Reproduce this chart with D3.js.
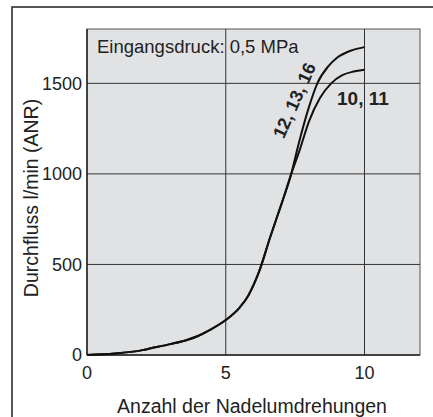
<!DOCTYPE html>
<html><head><meta charset="utf-8">
<script src="https://cdn.jsdelivr.net/npm/d3@7"></script>
<style>body{margin:0;background:#fff}svg{display:block}text{font-family:"Liberation Sans",Arial,sans-serif;fill:#222}</style>
</head><body><svg id="c" width="433" height="417"></svg>
<script>
const xTicks = [0, 5, 10];
const yTicks = [0, 500, 1000, 1500];
const seriesNames = ["12, 13, 16", "10, 11"];
const upperX = [0, 1, 2, 2.3, 3, 3.6, 4, 4.4, 5, 5.5, 5.8, 6.2, 6.6, 7, 7.36, 7.6, 8, 8.3, 8.7, 9, 9.5, 10];
const upperY = [0, 8, 27, 37, 60, 83, 105, 136, 193, 262, 325, 460, 650, 830, 1000, 1150, 1370, 1500, 1595, 1640, 1680, 1700];
const lowerX = [0, 1, 2, 2.3, 3, 3.6, 4, 4.4, 5, 5.5, 5.8, 6.2, 6.6, 7, 7.36, 7.66, 8, 8.4, 8.8, 9.2, 9.6, 10];
const lowerY = [0, 8, 27, 37, 60, 83, 105, 136, 193, 262, 325, 460, 650, 830, 1000, 1130, 1290, 1420, 1500, 1545, 1565, 1575];
const annotation = "Eingangsdruck: 0,5 MPa";
const xTitle = "Anzahl der Nadelumdrehungen";
const yTitle = "Durchfluss l/min (ANR)";

const svg = d3.select("#c");
const L = 87, R = 420, T = 29, B = 355;
const x = d3.scaleLinear().domain([0, 12]).range([L, R]);
const y = d3.scaleLinear().domain([0, 1800]).range([B, T]);

// outer frame
svg.append("path").attr("d", `M12,440 V7 H440`).attr("fill", "none").attr("stroke", "#222").attr("stroke-width", 1.5);

// plot background
svg.append("rect").attr("x", L).attr("y", T).attr("width", R - L).attr("height", B - T)
  .attr("fill", "#e1e2e4").attr("stroke", "#555").attr("stroke-width", 1);

// grid
svg.append("g").selectAll("line").data(xTicks.filter(d => d > 0)).join("line")
  .attr("x1", d => x(d)).attr("x2", d => x(d)).attr("y1", T).attr("y2", B)
  .attr("stroke", "#333").attr("stroke-width", 1);
svg.append("g").selectAll("line").data(yTicks.filter(d => d > 0)).join("line")
  .attr("y1", d => y(d)).attr("y2", d => y(d)).attr("x1", L).attr("x2", R)
  .attr("stroke", "#333").attr("stroke-width", 1);
// axis lines
svg.append("line").attr("x1", L).attr("x2", R).attr("y1", B).attr("y2", B).attr("stroke", "#222").attr("stroke-width", 1.5);
svg.append("line").attr("x1", L).attr("x2", L).attr("y1", T).attr("y2", B).attr("stroke", "#222").attr("stroke-width", 1.5);

// tick labels
svg.append("g").selectAll("text").data(xTicks).join("text")
  .attr("x", d => x(d)).attr("y", 379).attr("text-anchor", "middle").attr("font-size", 18).text(d => d);
svg.append("g").selectAll("text").data(yTicks).join("text")
  .attr("x", 82).attr("y", d => y(d)).attr("dy", "0.35em").attr("text-anchor", "end").attr("font-size", 18).text(d => d);

// titles
svg.append("text").attr("x", 252).attr("y", 413).attr("text-anchor", "middle").attr("font-size", 19.5).text(xTitle);
svg.append("text").attr("transform", `translate(38,${(T + B) / 2 + 6}) rotate(-90)`).attr("text-anchor", "middle").attr("font-size", 19.5).text(yTitle);

// curves
const line = d3.line().x(d => x(d[0])).y(d => y(d[1])).curve(d3.curveMonotoneX);
const up = upperX.map((v, i) => [v, upperY[i]]);
const lo = lowerX.map((v, i) => [v, lowerY[i]]);
[up, lo].forEach(data => {
  svg.append("path").attr("d", line(data)).attr("fill", "none").attr("stroke", "#111").attr("stroke-width", 2);
});

// annotations
svg.append("text").attr("x", 97).attr("y", 53).attr("font-size", 18.5).text(annotation);
svg.append("text").attr("transform", "translate(300,103) rotate(-66)").attr("text-anchor", "middle")
  .attr("font-size", 18).attr("font-weight", "bold").text(seriesNames[0]);
svg.append("text").attr("x", 337).attr("y", 105).attr("font-size", 19).attr("font-weight", "bold").text(seriesNames[1]);
</script></body></html>
